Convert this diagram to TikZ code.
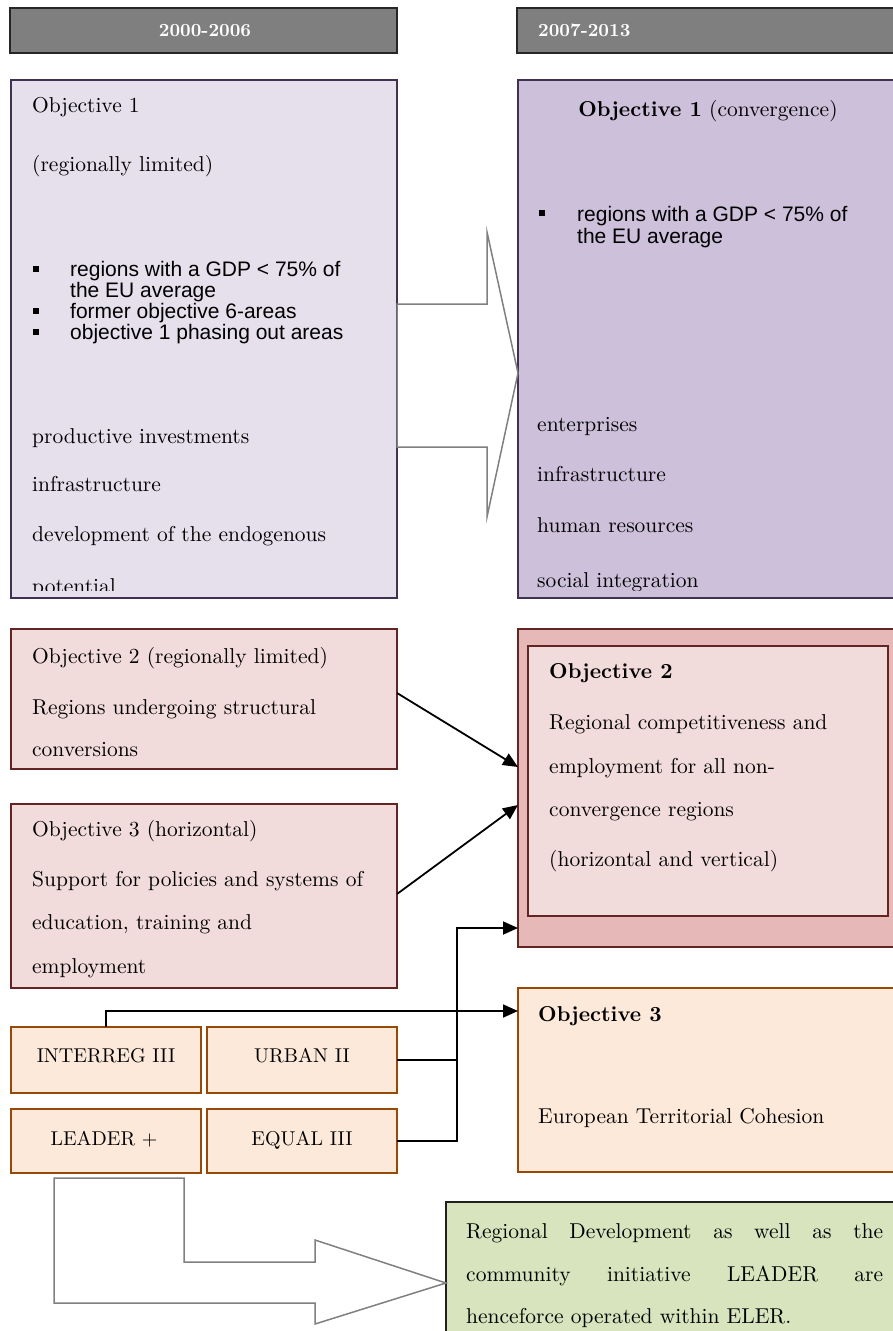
\documentclass[tikz,border=0pt]{standalone}
\usepackage{fontspec}
\setmainfont{lmroman10}[Extension=.otf, UprightFont=*-regular, BoldFont=*-bold, ItalicFont=*-italic, BoldItalicFont=*-bolditalic]
\newfontfamily\arialf{Liberation Sans}
\usetikzlibrary{arrows.meta,calc}
\definecolor{hdrG}{HTML}{7F7F7F}
\definecolor{hdrB}{HTML}{262626}
\definecolor{lavL}{HTML}{E5E0EC}
\definecolor{lavR}{HTML}{CCC0DA}
\definecolor{purB}{HTML}{3F3151}
\definecolor{pinkL}{HTML}{F2DCDB}
\definecolor{pinkD}{HTML}{E6B9B8}
\definecolor{redB}{HTML}{632523}
\definecolor{orF}{HTML}{FDE9D9}
\definecolor{orB}{HTML}{984807}
\definecolor{grF}{HTML}{D7E4BD}
\definecolor{grB}{HTML}{1F1F1F}
\definecolor{arG}{HTML}{808080}
\tikzset{
  blk/.style={anchor=north west, inner sep=0pt, outer sep=0pt},
  hdr/.style={blk, draw=hdrB, line width=2pt, fill=hdrG},
  lavbox/.style={blk, draw=purB, line width=1.5pt},
  pinkbox/.style={blk, draw=redB, line width=1.5pt, fill=pinkL},
  orbox/.style={blk, draw=orB, line width=2pt, fill=orF},
  grbox/.style={blk, draw=grB, line width=2pt, fill=grF},
  hdrtxt/.style={anchor=base, inner sep=0pt, text=white, font=\fontsize{18.5}{22}\selectfont\bfseries},
  tx/.style={anchor=base west, inner sep=0pt, font=\fontsize{21.5}{26}\selectfont},
  txc/.style={anchor=base, inner sep=0pt, font=\fontsize{20}{24}\selectfont},
  sx/.style={anchor=base west, inner sep=0pt, font=\fontsize{21}{25}\selectfont\arialf},
  bul/.style={inner sep=0pt, minimum size=6pt, fill=black},
  bigarrow/.style={draw=arG, line width=1.5pt, fill=white, line join=miter},
  conn/.style={draw=black, line width=1.8pt},
  arr/.style={conn, -{Triangle[length=15pt,width=13pt]}},
}
\begin{document}
\begin{tikzpicture}[x=1pt,y=-1pt]
\useasboundingbox (0,0) rectangle (893,1331);

% headers
\node[hdr, minimum width=387pt, minimum height=45pt] (h1) at (10,8) {};
\node[hdr, minimum width=390pt, minimum height=45pt] (h2) at (517,8) {};
\node[hdrtxt] (h1t) at (205,36) {2000-2006};
\node[hdrtxt, anchor=base west] (h2t) at (538,36) {2007-2013};

% objective 1 boxes
\node[lavbox, fill=lavL, minimum width=386pt, minimum height=518pt] (o1l) at (11,80) {};
\node[lavbox, fill=lavR, minimum width=380pt, minimum height=518pt] (o1r) at (518,80) {};

\begin{scope}
\clip (11,80) rectangle (397,590);
\node[tx] (l1) at (32,112) {Objective 1};
\node[tx] (l2) at (32,171) {(regionally limited)};
\node[bul] (b1) at (36,269) {};
\node[sx] (l3) at (70,276) {regions with a GDP < 75\% of};
\node[sx] (l4) at (70,297) {the EU average};
\node[bul] (b2) at (36,311) {};
\node[sx] (l5) at (70,318) {former objective 6-areas};
\node[bul] (b3) at (36,332) {};
\node[sx] (l6) at (70,339) {objective 1 phasing out areas};
\node[tx] (l7) at (32,443) {productive investments};
\node[tx] (l8) at (32,491) {infrastructure};
\node[tx] (l9) at (32,541) {development of the endogenous};
\node[tx] (l10) at (32,593) {potential};
\end{scope}

\begin{scope}
\clip (518,80) rectangle (893,590);
\node[tx, anchor=base] (r1) at (708,116) {\textbf{Objective 1} (convergence)};
\node[bul] (rb1) at (542,213) {};
\node[sx] (r2) at (577,221) {regions with a GDP < 75\% of};
\node[sx] (r3) at (577,243) {the EU average};
\node[tx] (r4) at (537,431) {enterprises};
\node[tx] (r5) at (537,481) {infrastructure};
\node[tx] (r6) at (537,532) {human resources};
\node[tx] (r7) at (537,587) {social integration};
\end{scope}

% big arrow between objective 1 boxes
\draw[bigarrow] (397,304) -- (487,304) -- (487,232) -- (518,373) -- (487,517) -- (487,447) -- (397,447) -- cycle;

% objective 2 / 3 left
\node[pinkbox, minimum width=386pt, minimum height=140pt] (o2l) at (11,629) {};
\node[tx] (p1) at (32,663) {Objective 2 (regionally limited)};
\node[tx] (p2) at (32,714) {Regions undergoing structural};
\node[tx] (p3) at (32,756) {conversions};

\node[pinkbox, minimum width=386pt, minimum height=184pt] (o3l) at (11,804) {};
\node[tx] (q1) at (32,836) {Objective 3 (horizontal)};
\node[tx] (q2) at (32,886) {Support for policies and systems of};
\node[tx] (q3) at (32,929) {education, training and};
\node[tx] (q4) at (32,973) {employment};

% objective 2 right
\node[pinkbox, fill=pinkD, minimum width=380pt, minimum height=318pt] (o2r) at (518,629) {};
\node[pinkbox, minimum width=360pt, minimum height=270pt] (o2ri) at (528,646) {};
\node[tx] (s1) at (549,678) {\textbf{Objective 2}};
\node[tx] (s2) at (549,729) {Regional competitiveness and};
\node[tx] (s3) at (549,773) {employment for all non-};
\node[tx] (s4) at (549,816) {convergence regions};
\node[tx] (s5) at (549,866) {(horizontal and vertical)};

% small orange boxes
\node[orbox, minimum width=190pt, minimum height=66pt] (interreg) at (11,1027) {};
\node[orbox, minimum width=190pt, minimum height=66pt] (urban) at (207,1027) {};
\node[orbox, minimum width=190pt, minimum height=64pt] (leader) at (11,1109) {};
\node[orbox, minimum width=190pt, minimum height=64pt] (equal) at (207,1109) {};
\node[txc] (it) at (106,1062) {INTERREG III};
\node[txc] (ut) at (302,1062) {URBAN II};
\node[txc] (lt) at (104,1145) {LEADER +};
\node[txc] (et) at (302,1145) {EQUAL III};

% objective 3 right
\node[orbox, minimum width=380pt, minimum height=184pt] (o3r) at (518,988) {};
\node[tx] (t1) at (538,1021) {\textbf{Objective 3}};
\node[tx] (t2) at (538,1123) {European Territorial Cohesion};

% green box
\node[grbox, minimum width=452pt, minimum height=140pt] (green) at (446,1202) {};
\node[tx] (g1) at (466,1238) {\makebox[417pt][s]{Regional Development as well as the}};
\node[tx] (g2) at (466,1281) {\makebox[417pt][s]{community initiative LEADER are}};
\node[tx] (g3) at (466,1323) {henceforce operated within ELER.};

% LEADER arrow
\draw[bigarrow] (54,1178) -- (184,1178) -- (184,1262) -- (315,1262) -- (315,1240) -- (446,1283) -- (315,1324) -- (315,1303) -- (54,1303) -- cycle;

% connectors
\coordinate (a2s) at ($(o2l.north east)+(0,64)$);
\coordinate (a2e) at ($(o2r.north west)+(0,138)$);
\coordinate (a3s) at ($(o3l.north east)+(0,90)$);
\coordinate (a3e) at ($(o2r.north west)+(0,176)$);
\draw[arr] (a2s) -- (a2e);
\draw[arr] (a3s) -- (a3e);

\coordinate (bus) at (457,928);
\coordinate (j2) at ($(o2r.north west)+(0,299)$);
\coordinate (j3) at ($(o3r.north west)+(0,23)$);
\draw[arr] (urban.east) -| (bus) -- (j2);
\draw[conn] (equal.east) -| (urban.east -| bus);
\draw[arr] (interreg.north) |- (j3);
\end{tikzpicture}
\end{document}
